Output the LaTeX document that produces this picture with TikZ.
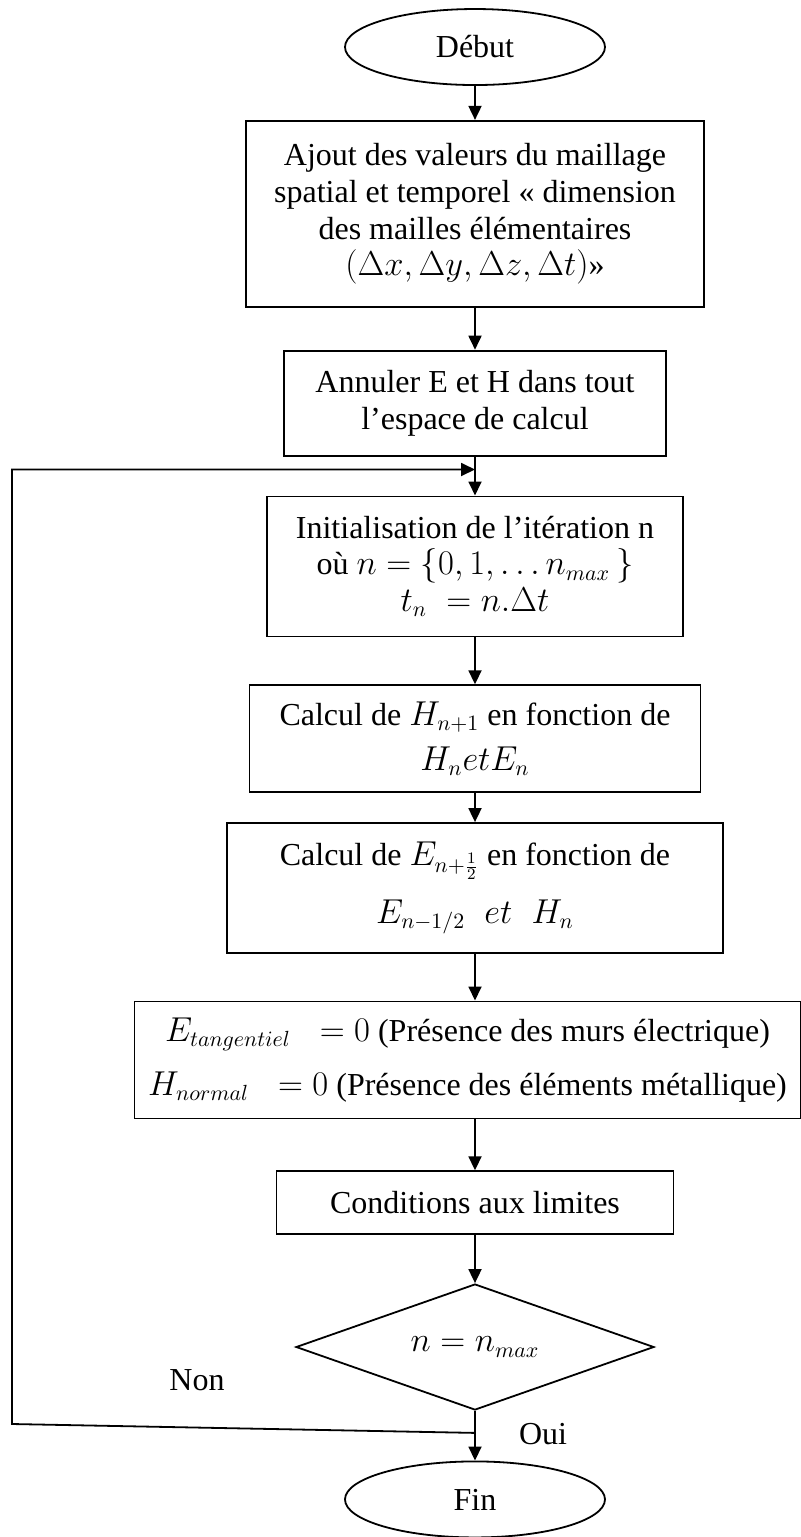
\documentclass[tikz,border=0pt]{standalone}
\usepackage{fontspec}
\setmainfont{Liberation Serif}
\usetikzlibrary{shapes.geometric,arrows.meta,graphs}
\tikzstyle{bloc} = [draw, rectangle, text centered, align=center, inner sep=2pt]
\tikzstyle{terminal} = [draw, ellipse, minimum width=130pt, minimum height=38pt, inner sep=0pt]
\tikzstyle{test} = [draw, diamond, aspect=2.84, minimum width=179pt, minimum height=63pt, inner sep=0pt]

\begin{document}
\begin{tikzpicture}[line width=0.9pt, >={Triangle[length=7pt,width=6.5pt]}, font=\fontsize{16}{18.4}\selectfont]
    \useasboundingbox (0,0) rectangle (400.5pt,-768.5pt);
    \matrix[anchor=north, inner sep=0pt, row sep=0pt] at (233.75pt,-3.6pt) {
        \node[terminal](1){Début}; \\[17pt]
        \node[bloc, minimum width=229pt, minimum height=93pt](2){Ajout des valeurs du maillage \\ spatial et temporel « dimension \\ des mailles élémentaires \\ $(\Delta x,\Delta y,\Delta z,\Delta t)$»}; \\[21pt]
        \node[bloc, minimum width=191pt, minimum height=52.5pt](3){Annuler E et H dans tout \\ l’espace de calcul}; \\[19.5pt]
        \node[bloc, minimum width=208pt, minimum height=70pt](4){Initialisation de l’itération n \\ où $n=\{0,1,\ldots n_{max}\,\}$ \\ $t_n\;= n.\Delta t$}; \\[23.5pt]
        \node[bloc, minimum width=225.5pt, minimum height=53.5pt](5){Calcul de $H_{n+1}$ en fonction de \\[4pt] $H_n e t E_n$}; \\[14.5pt]
        \node[bloc, minimum width=248pt, minimum height=65pt](6){Calcul de $E_{n+\frac{1}{2}}$ en fonction de \\[9pt] $E_{n-1/2}\;\;et\;\;H_n$}; \\[23.3pt]
        \node[bloc, minimum width=333pt, minimum height=58.5pt, xshift=-3.75pt](7){$E_{tangentiel}\;\;=0$ (Présence des murs électrique) \\[8.5pt] $H_{normal}\;\;=0$ (Présence des éléments métallique)}; \\[25.5pt]
        \node[bloc, minimum width=198.5pt, minimum height=31.5pt](8){Conditions aux limites}; \\[24pt]
        \node[test](9){$n = n_{max}$}; \\[25pt]
        \node[terminal](10){Fin}; \\
    };

    \graph {
        (1) -> (2) -> (3) -> (4) -> (5) -> (6);
        (8) -> (9) -> (10);
    };
    \draw[->] (6) -- (6 |- 7.north);
    \draw[->] (8 |- 7.south) -- (8);

    % retour vers l'iteration suivante
    \coordinate (boucle) at ([yshift=-6.5pt]3.south);
    \coordinate (oui) at ([yshift=-11pt]9.south);
    \coordinate (coin) at (6pt,-712pt);
    \draw[->] (oui) -- (coin) |- (boucle);

    \node (non) at (98.5pt,-690pt) {Non};
    \node (ouitxt) at (271.5pt,-717pt) {Oui};
\end{tikzpicture}
\end{document}
